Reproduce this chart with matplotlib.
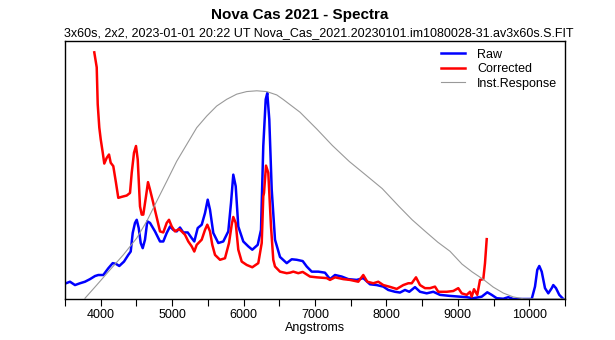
import matplotlib
matplotlib.use("Agg")
import matplotlib.pyplot as plt
from matplotlib.ticker import MultipleLocator

plt.rcParams["font.family"] = ["Liberation Sans", "DejaVu Sans"]

# wavelength (Angstrom) and relative flux
raw_wl = [3514, 3570, 3640, 3710, 3780, 3850, 3920, 3966, 4036, 4106, 4168, 4214,
          4260, 4326, 4386, 4420, 4448, 4480, 4504, 4532, 4560, 4588, 4620, 4652,
          4690, 4760, 4830, 4876, 4924, 4970, 5016, 5064, 5110, 5156, 5218, 5274,
          5310, 5358, 5414, 5460, 5498, 5530, 5576, 5646, 5716, 5786, 5824, 5856,
          5890, 5926, 5996, 6066, 6122, 6198, 6244, 6276, 6310, 6332, 6360, 6394,
          6440, 6510, 6604, 6674, 6744, 6828, 6884, 6954, 7046, 7140, 7210, 7280,
          7374, 7466, 7584, 7676, 7770, 7864, 7956, 8026, 8120, 8190, 8260, 8320,
          8400, 8470, 8564, 8656, 8750, 8890, 9030, 9124, 9216, 9334, 9412, 9474,
          9544, 9636, 9706, 9776, 9916, 10034, 10080, 10112, 10140, 10174, 10220,
          10266, 10314, 10336, 10374, 10420, 10476]
raw_flux = [6.1, 6.7, 5.4, 6.1, 6.7, 7.7, 8.9, 9.3, 9.3, 11.9, 13.9, 13.6,
            12.8, 14.5, 17.1, 18.4, 25.6, 29.5, 30.7, 27.5, 21.7, 19.7, 23.0, 30.1,
            29.5, 26.2, 22.3, 22.3, 25.6, 28.1, 26.8, 26.2, 27.7, 25.8, 25.8, 23.6,
            22.3, 27.5, 28.8, 33.3, 38.5, 34.6, 25.6, 21.7, 22.3, 26.2, 37.2, 48.2,
            43.7, 28.1, 22.3, 20.4, 19.1, 21.0, 26.8, 59.3, 77.4, 79.8, 69.6, 42.4,
            23.0, 16.3, 13.9, 15.4, 15.2, 14.7, 12.6, 10.6, 10.6, 10.2, 7.7, 9.3,
            8.7, 7.7, 7.4, 8.1, 5.7, 5.4, 4.8, 3.5, 2.8, 2.5, 3.5, 2.8,
            4.6, 2.8, 2.2, 2.8, 1.6, 1.2, 0.9, 0.7, 0.3, 0.9, 2.6, 1.6,
            0.3, 0.1, 0.7, 0.0, 0.0, 0.0, 4.8, 11.3, 12.8, 10.6, 4.2,
            2.2, 4.2, 5.4, 4.2, 1.6, 0.0]

cor_wl = [3910, 3944, 3958, 3980, 4000, 4028, 4050, 4084, 4116, 4140, 4176, 4214,
          4246, 4294, 4364, 4410, 4434, 4466, 4494, 4518, 4550, 4574, 4596, 4634,
          4662, 4690, 4736, 4792, 4830, 4876, 4924, 4956, 4994, 5040, 5096, 5134,
          5180, 5226, 5274, 5310, 5344, 5414, 5460, 5492, 5530, 5562, 5600, 5670,
          5740, 5796, 5834, 5856, 5890, 5926, 5974, 6044, 6122, 6206, 6254, 6276,
          6286, 6314, 6346, 6384, 6416, 6440, 6510, 6604, 6650, 6696, 6766, 6828,
          6930, 7024, 7070, 7164, 7210, 7280, 7396, 7490, 7606, 7676, 7732, 7816,
          7886, 7956, 8050, 8144, 8236, 8306, 8354, 8414, 8470, 8540, 8610, 8680,
          8726, 8844, 8936, 9006, 9054, 9124, 9170, 9194, 9226, 9272, 9310, 9356,
          9380, 9404]
cor_flux = [95.6, 89.8, 75.5, 66.5, 61.9, 56.8, 52.5, 54.7, 56.0, 52.8, 51.5, 45.0,
            39.2, 39.6, 40.1, 41.1, 48.9, 56.7, 59.3, 54.1, 35.9, 32.7, 32.7, 39.8,
            45.3, 42.4, 37.2, 30.7, 26.2, 25.8, 29.5, 30.7, 28.1, 26.2, 27.1, 26.2,
            24.9, 22.3, 20.4, 18.4, 21.0, 23.0, 26.8, 28.8, 26.2, 21.0, 17.1, 15.2,
            15.8, 21.7, 28.8, 31.8, 29.5, 19.1, 14.5, 13.2, 12.3, 13.9, 21.7, 39.8,
            41.1, 51.7, 48.9, 28.1, 15.2, 12.6, 10.6, 10.0, 10.2, 10.6, 10.0, 10.5,
            8.7, 8.4, 8.3, 8.1, 7.4, 8.4, 7.7, 7.4, 6.7, 9.3, 6.7, 6.1,
            6.7, 5.4, 4.7, 3.9, 5.4, 6.1, 6.1, 8.4, 5.4, 4.2, 4.2, 4.8,
            2.8, 2.8, 3.1, 4.2, 2.2, 1.6, 2.8, 0.9, 3.8, 1.6, 7.4, 7.7,
            13.9, 23.2]

resp_wl = [3780, 3944, 4130, 4316, 4504, 4644, 4784, 4924, 5064, 5204, 5344, 5484,
           5624, 5764, 5904, 6044, 6184, 6324, 6464, 6552, 6790, 7028, 7243, 7480,
           7718, 7941, 8179, 8360, 8540, 8720, 8890, 9059, 9200, 9356, 9496, 9636,
           9776, 9916, 10500]
resp_flux = [0.3, 5.4, 11.3, 17.1, 23.6, 30.1, 37.9, 45.6, 53.4, 59.9, 66.4, 70.9,
             74.8, 77.4, 79.4, 80.4, 80.7, 80.4, 79.1, 77.4, 72.4, 65.8, 59.5, 53.3,
             47.9, 42.8, 35.8, 30.7, 26.3, 22.0, 18.5, 13.5, 10.5, 7.6, 4.6, 2.3,
             0.8, 0.1, 0.0]

fig = plt.figure(figsize=(6.15, 3.4), dpi=100)
ax = fig.add_axes([65 / 615, 1 - 299 / 340, 500 / 615, 258 / 340])

ax.plot(raw_wl, raw_flux, color="#0000ff", lw=1.8, label="Raw")
ax.plot(cor_wl, cor_flux, color="#ff0000", lw=1.8, label="Corrected")
ax.plot(resp_wl, resp_flux, color="#999999", lw=0.8, label="Inst.Response")

ax.set_xlim(3500, 10500)
ax.set_ylim(0, 100)
ax.set_yticks([])
ax.xaxis.set_major_locator(MultipleLocator(1000))
ax.xaxis.set_minor_locator(MultipleLocator(500))
ax.tick_params(axis="x", which="both", direction="out", length=5, width=0.8,
               labelsize=9, pad=2)
ax.set_xlabel("Angstroms", fontsize=9, labelpad=1)
for s in ax.spines.values():
    s.set_linewidth(1.0)

ax.legend(loc="upper right", frameon=False, fontsize=9, handlelength=1.9,
          handletextpad=1.0, labelspacing=0.2, borderaxespad=0.2,
          bbox_to_anchor=(1.0, 1.0))

fig.text(300 / 615, 1 - 15 / 340, "Nova Cas 2021 - Spectra", ha="center",
         va="center", fontsize=11, fontweight="bold")
fig.text(319 / 615, 1 - 33 / 340,
         "3x60s, 2x2, 2023-01-01 20:22 UT Nova_Cas_2021.20230101.im1080028-31.av3x60s.S.FIT",
         ha="center", va="center", fontsize=9)

fig.savefig("out.png", dpi=100)
